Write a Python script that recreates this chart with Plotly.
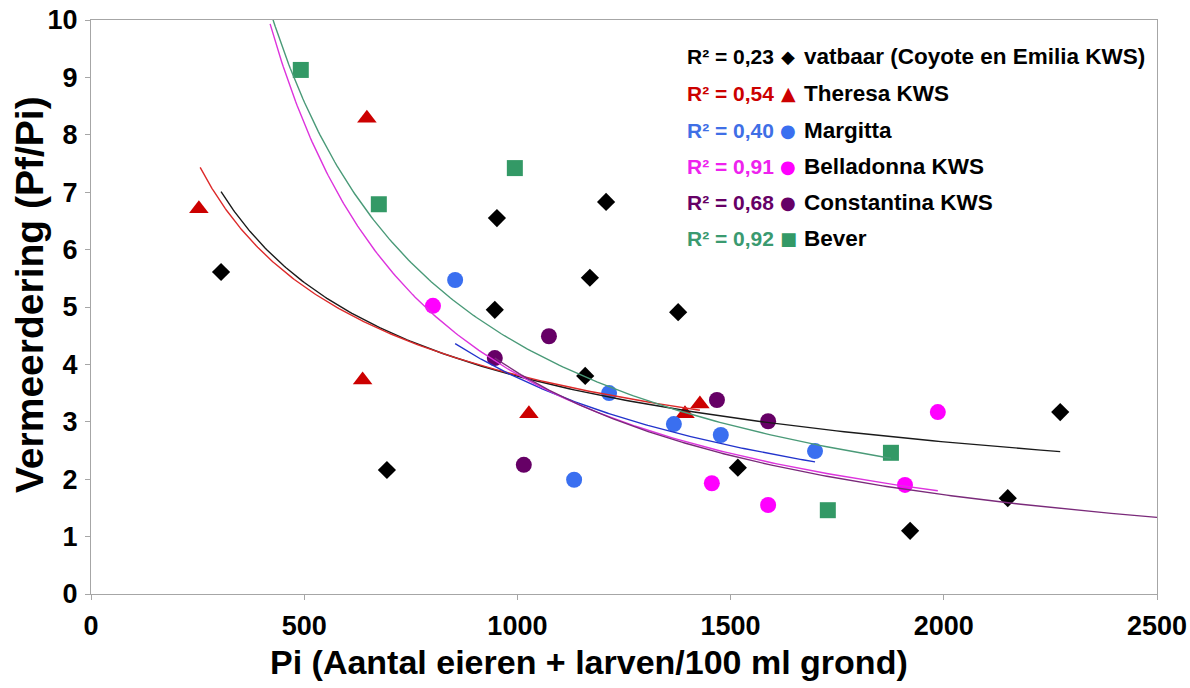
import numpy as np
import plotly.graph_objects as go

# Pi (eggs + larvae / 100 ml soil) and multiplication rate Pf/Pi per variety
vatbaar_pi = [305, 694, 952, 947, 1208, 1170, 1159, 1377, 1517, 1921, 2150, 2273]
vatbaar_pfpi = [5.61, 2.16, 6.55, 4.95, 6.83, 5.51, 3.80, 4.91, 2.20, 1.10, 1.67, 3.17]
theresa_pi = [253, 647, 637, 1027, 1393, 1428]
theresa_pfpi = [6.71, 8.29, 3.73, 3.14, 3.14, 3.31]
margitta_pi = [854, 1133, 1215, 1367, 1477, 1698]
margitta_pfpi = [5.47, 1.99, 3.50, 2.96, 2.77, 2.49]
belladonna_pi = [802, 1456, 1588, 1909, 1986]
belladonna_pfpi = [5.02, 1.93, 1.55, 1.90, 3.17]
constantina_pi = [947, 1074, 1015, 1468, 1588]
constantina_pfpi = [4.11, 4.49, 2.25, 3.38, 3.01]
bever_pi = [492, 675, 994, 1876, 1728]
bever_pfpi = [9.13, 6.79, 7.42, 2.46, 1.46]

# Power trendlines y = a * x^b with their drawn Pi range
trend_a = [134.9, 112.5, 2322, 7632, 11491, 3648]
trend_b = [-0.517, -0.490, -0.930, -1.100, -1.158, -0.974]
trend_xmin = [305, 256, 854, 420, 947, 400]
trend_xmax = [2273, 1428, 1698, 1986, 2500, 1876]
r_squared = ["0,23", "0,54", "0,40", "0,91", "0,68", "0,92"]

variety_names = ["vatbaar (Coyote en Emilia KWS)", "Theresa KWS", "Margitta",
                 "Belladonna KWS", "Constantina KWS", "Bever"]

series_x = [vatbaar_pi, theresa_pi, margitta_pi, belladonna_pi, constantina_pi, bever_pi]
series_y = [vatbaar_pfpi, theresa_pfpi, margitta_pfpi, belladonna_pfpi, constantina_pfpi, bever_pfpi]

marker_symbols = ["diamond", "triangle-up", "circle", "circle", "circle", "square"]
marker_sizes = [14, 17, 16, 16, 16, 16]
marker_colors = ["#000000", "#cc0000", "#3a6ff0", "#ff00ff", "#660066", "#339966"]
line_colors = ["#1a1a1a", "#dd2a2a", "#2233cc", "#dd33dd", "#7a2a7a", "#4a9a78"]
label_colors = ["#000000", "#cc0000", "#3f6fe6", "#ee22ee", "#660066", "#3a9a70"]
legend_glyphs = ["\u25C6", "\u25B2", "\u25CF", "\u25CF", "\u25CF", "\u25A0"]

W, H = 1190, 688
L, R, T, B = 91, 33, 20, 94
PW, PH = W - L - R, H - T - B


def px_x(p):
    return (p - L) / PW


def px_y(p):
    return (H - B - p) / PH


fig = go.Figure()

for xs, ys, sym, size, col, name in zip(series_x, series_y, marker_symbols,
                                        marker_sizes, marker_colors, variety_names):
    fig.add_trace(go.Scatter(
        x=xs, y=ys, mode="markers", name=name, showlegend=False,
        marker=dict(symbol=sym, size=size, color=col, line=dict(width=0)),
    ))

for a, b, x0, x1, col in zip(trend_a, trend_b, trend_xmin, trend_xmax, line_colors):
    xt = np.geomspace(x0, x1, 200)
    yt = a * xt ** b
    fig.add_trace(go.Scatter(
        x=xt, y=yt, mode="lines", showlegend=False, hoverinfo="skip",
        line=dict(color=col, width=1.4),
    ))

font_main = "Liberation Sans, Arial, sans-serif"

annotations = []
row_y = [56.7, 93.3, 130.0, 166.7, 202.7, 238.3]
for i in range(len(variety_names)):
    yy = px_y(row_y[i])
    annotations.append(dict(
        xref="paper", yref="paper", x=px_x(685), y=yy, xanchor="left", yanchor="middle",
        text="R² = " + r_squared[i], showarrow=False,
        font=dict(family=font_main, size=21, color=label_colors[i], weight="bold"),
    ))
    annotations.append(dict(
        xref="paper", yref="paper", x=px_x(788), y=yy, xanchor="center", yanchor="middle",
        text=legend_glyphs[i], showarrow=False,
        font=dict(family="DejaVu Sans, sans-serif", size=18 if i != 1 else 19,
                  color=marker_colors[i]),
    ))
    annotations.append(dict(
        xref="paper", yref="paper", x=px_x(802), y=yy, xanchor="left", yanchor="middle",
        text=variety_names[i], showarrow=False,
        font=dict(family=font_main, size=22.5, color="#000000", weight="bold"),
    ))

annotations.append(dict(
    xref="paper", yref="paper", x=px_x(589), y=px_y(662), xanchor="center", yanchor="middle",
    text="Pi (Aantal eieren + larven/100 ml grond)", showarrow=False,
    font=dict(family=font_main, size=34, color="#000000", weight="bold"),
))
annotations.append(dict(
    xref="paper", yref="paper", x=px_x(30), y=px_y(295), xanchor="center", yanchor="middle",
    text="Vermeerdering (Pf/Pi)", showarrow=False, textangle=-90,
    font=dict(family=font_main, size=39, color="#000000", weight="bold"),
))

axis_common = dict(
    showgrid=False, zeroline=False, showline=True, linecolor="#a6a6a6", linewidth=1,
    mirror=True, ticks="outside", ticklen=5, tickcolor="#a6a6a6", tickwidth=1,
    automargin=False,
    tickfont=dict(family=font_main, size=27, color="#000000", weight="bold"),
)

fig.update_layout(
    width=W, height=H,
    margin=dict(l=L, r=R, t=T, b=B, autoexpand=False),
    paper_bgcolor="white", plot_bgcolor="white",
    xaxis=dict(range=[0, 2500], tickvals=[0, 500, 1000, 1500, 2000, 2500],
               ticklabelstandoff=3, **axis_common),
    yaxis=dict(range=[0, 10], tickvals=list(range(0, 11)), ticklabelstandoff=2, **axis_common),
    annotations=annotations,
)

fig.write_html("out.html")
